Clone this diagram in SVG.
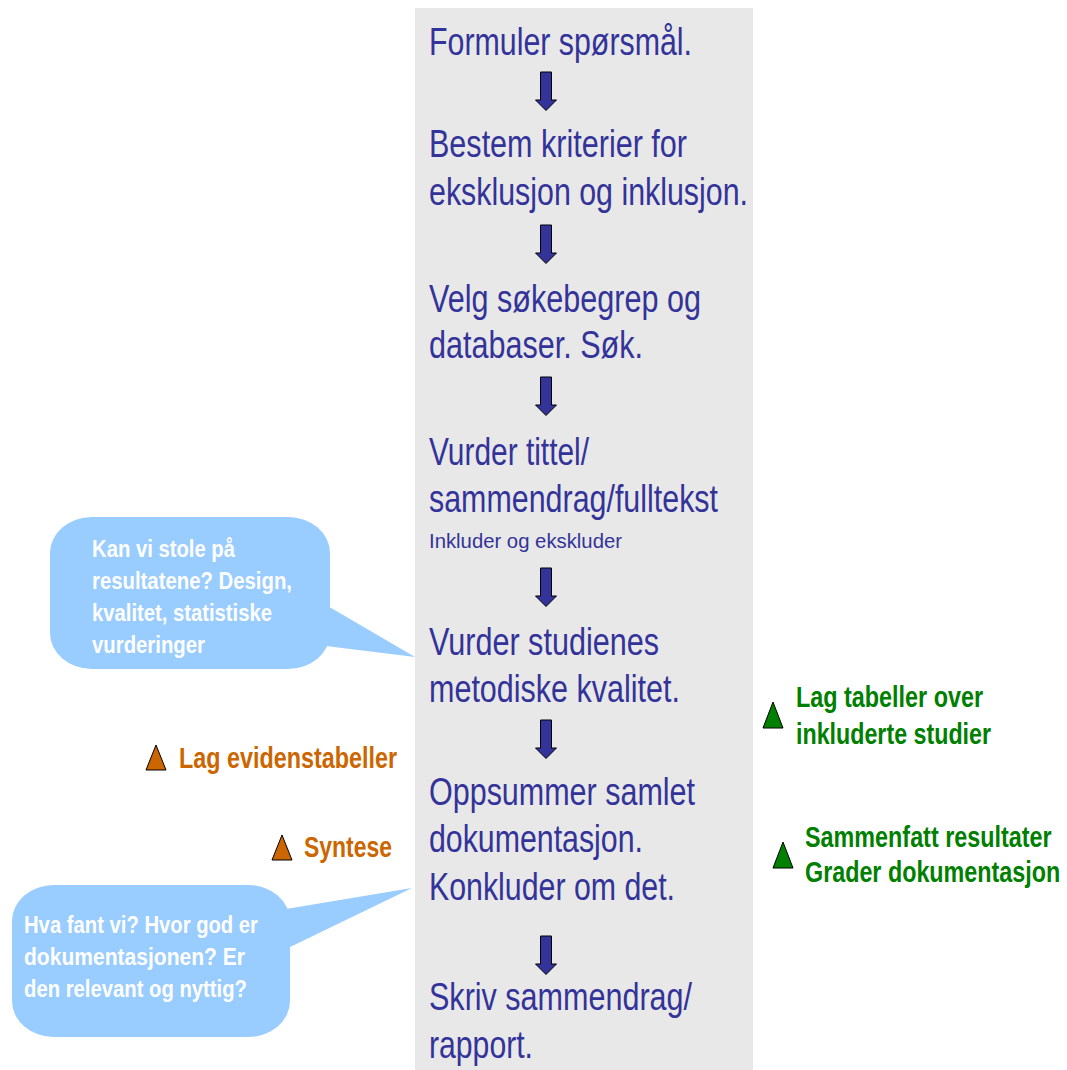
<svg xmlns="http://www.w3.org/2000/svg" xmlns:xlink="http://www.w3.org/1999/xlink" width="1067" height="1070" viewBox="0 0 1067 1070">
<defs>
<style>
.step{font-family:"Liberation Sans",Arial,sans-serif;font-size:38px;fill:#333399}
.small{font-family:"Liberation Sans",Arial,sans-serif;font-size:21px;fill:#333399}
.bub{font-family:"Liberation Sans",Arial,sans-serif;font-size:23px;font-weight:bold;fill:#ffffff}
.org{font-family:"Liberation Sans",Arial,sans-serif;font-size:30px;font-weight:bold;fill:#cc6600}
.grn{font-family:"Liberation Sans",Arial,sans-serif;font-size:30px;font-weight:bold;fill:#008000}
.bubble{fill:#99ccff}
.tri-o{fill:#cc6600;stroke:#000;stroke-width:1}
.tri-g{fill:#008000;stroke:#000;stroke-width:1}
.arrow{fill:#333399;stroke:#000;stroke-width:1}
</style>
<path id="darrow" d="M-5.5,0 H5.5 V28 H10.5 L0,38.5 L-10.5,28 H-5.5 Z"/>
</defs>
<rect x="0" y="0" width="1067" height="1070" fill="#ffffff"/>
<rect id="panel" x="415" y="8" width="338" height="1062" fill="#e8e8e8"/>

<g id="connectors" class="arrow">
<use xlink:href="#darrow" transform="translate(546,72)"/>
<use xlink:href="#darrow" transform="translate(546,225)"/>
<use xlink:href="#darrow" transform="translate(546,377)"/>
<use xlink:href="#darrow" transform="translate(546,568)"/>
<use xlink:href="#darrow" transform="translate(546,720)"/>
<use xlink:href="#darrow" transform="translate(546,936)"/>
</g>

<g id="step1">
<text class="step" x="429" y="55" textLength="263" lengthAdjust="spacingAndGlyphs">Formuler spørsmål.</text>
</g>
<g id="step2">
<text class="step" x="429" y="157" textLength="258" lengthAdjust="spacingAndGlyphs">Bestem kriterier for</text>
<text class="step" x="429" y="205" textLength="319" lengthAdjust="spacingAndGlyphs">eksklusjon og inklusjon.</text>
</g>
<g id="step3">
<text class="step" x="429" y="312" textLength="272" lengthAdjust="spacingAndGlyphs">Velg søkebegrep og</text>
<text class="step" x="429" y="358" textLength="214" lengthAdjust="spacingAndGlyphs">databaser. Søk.</text>
</g>
<g id="step4">
<text class="step" x="429" y="465" textLength="160" lengthAdjust="spacingAndGlyphs">Vurder tittel/</text>
<text class="step" x="429" y="512" textLength="289" lengthAdjust="spacingAndGlyphs">sammendrag/fulltekst</text>
<text class="small" x="429" y="548" textLength="193" lengthAdjust="spacingAndGlyphs">Inkluder og ekskluder</text>
</g>
<g id="step5">
<text class="step" x="429" y="655" textLength="230" lengthAdjust="spacingAndGlyphs">Vurder studienes</text>
<text class="step" x="429" y="702" textLength="251" lengthAdjust="spacingAndGlyphs">metodiske kvalitet.</text>
</g>
<g id="step6">
<text class="step" x="429" y="805" textLength="266" lengthAdjust="spacingAndGlyphs">Oppsummer samlet</text>
<text class="step" x="429" y="852" textLength="214" lengthAdjust="spacingAndGlyphs">dokumentasjon.</text>
<text class="step" x="429" y="900" textLength="246" lengthAdjust="spacingAndGlyphs">Konkluder om det.</text>
</g>
<g id="step7">
<text class="step" x="429" y="1010" textLength="263" lengthAdjust="spacingAndGlyphs">Skriv sammendrag/</text>
<text class="step" x="429" y="1058" textLength="104" lengthAdjust="spacingAndGlyphs">rapport.</text>
</g>

<g id="callout1">
<rect class="bubble" x="50" y="517" width="280" height="152" rx="42" ry="36"/>
<polygon class="bubble" points="326,605 415,657 326,646"/>
<text class="bub" x="92" y="557" textLength="143" lengthAdjust="spacingAndGlyphs">Kan vi stole på</text>
<text class="bub" x="92" y="589" textLength="200" lengthAdjust="spacingAndGlyphs">resultatene? Design,</text>
<text class="bub" x="92" y="621" textLength="180" lengthAdjust="spacingAndGlyphs">kvalitet, statistiske</text>
<text class="bub" x="92" y="653" textLength="113" lengthAdjust="spacingAndGlyphs">vurderinger</text>
</g>

<g id="callout2">
<rect class="bubble" x="12" y="885" width="278" height="152" rx="42" ry="36"/>
<polygon class="bubble" points="286,909 412,888 286,949"/>
<text class="bub" x="24" y="933" textLength="234" lengthAdjust="spacingAndGlyphs">Hva fant vi? Hvor god er</text>
<text class="bub" x="24" y="965" textLength="221" lengthAdjust="spacingAndGlyphs">dokumentasjonen? Er</text>
<text class="bub" x="24" y="997" textLength="223" lengthAdjust="spacingAndGlyphs">den relevant og nyttig?</text>
</g>

<g id="note-evidens">
<polygon class="tri-o" points="146,770 156,745 166,770"/>
<text class="org" x="179" y="768" textLength="218" lengthAdjust="spacingAndGlyphs">Lag evidenstabeller</text>
</g>
<g id="note-syntese">
<polygon class="tri-o" points="272,860 282,835 292,860"/>
<text class="org" x="304" y="857" textLength="88" lengthAdjust="spacingAndGlyphs">Syntese</text>
</g>
<g id="note-tabeller">
<polygon class="tri-g" points="763,728 773,702 783,728"/>
<text class="grn" x="796" y="707" textLength="187" lengthAdjust="spacingAndGlyphs">Lag tabeller over</text>
<text class="grn" x="796" y="744" textLength="195" lengthAdjust="spacingAndGlyphs">inkluderte studier</text>
</g>
<g id="note-sammenfatt">
<polygon class="tri-g" points="773,868 783,842 793,868"/>
<g transform="translate(805,0) scale(0.778,1)">
<text class="grn" x="0" y="847" textLength="317" lengthAdjust="spacingAndGlyphs">Sammenfatt resultater</text>
<text class="grn" x="0" y="882" textLength="328" lengthAdjust="spacingAndGlyphs">Grader dokumentasjon</text>
</g>
</g>
</svg>
